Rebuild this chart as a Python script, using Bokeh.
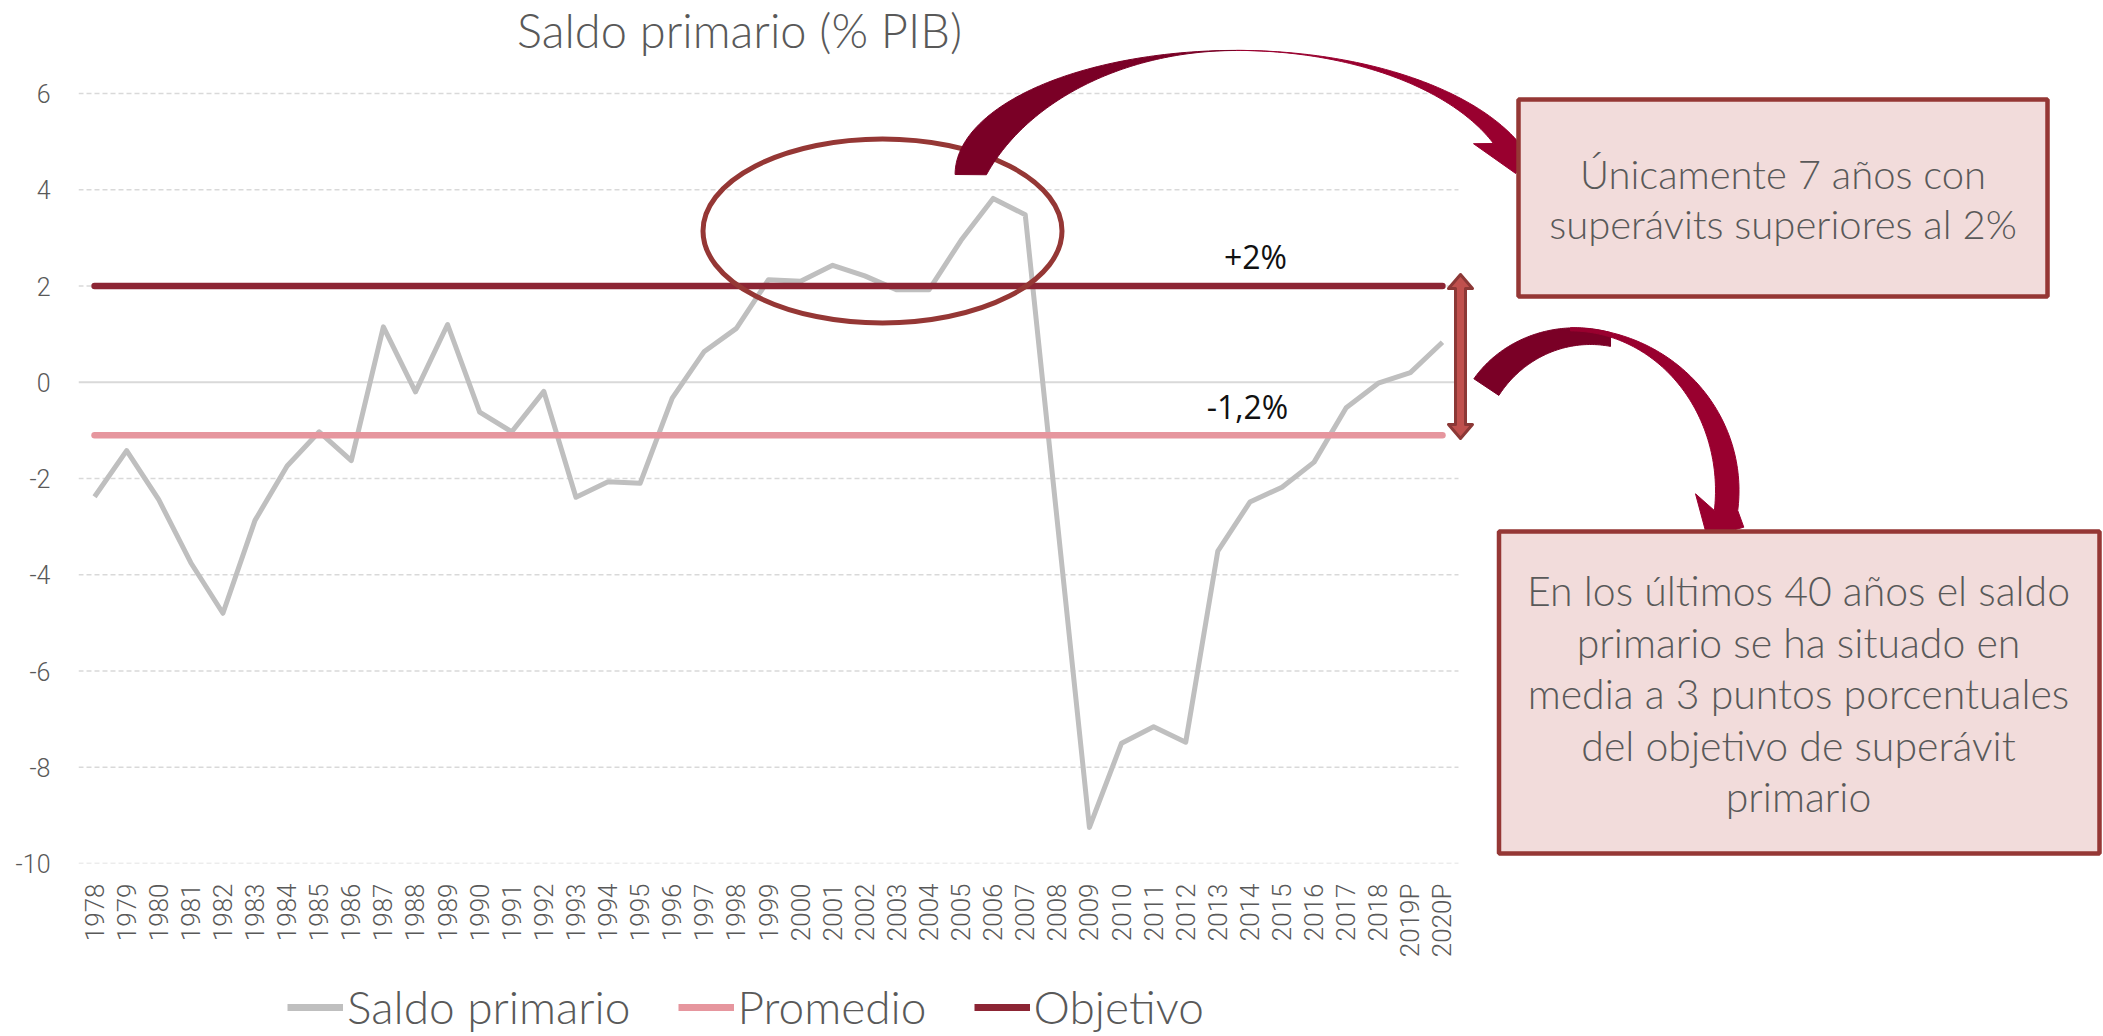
import numpy as np
from bokeh.plotting import figure
from bokeh.layouts import column
from bokeh.models import Range1d, FixedTicker, Legend, LegendItem
from bokeh.core.properties import value
from bokeh.embed import file_html
from bokeh.resources import INLINE

# ---------------- data ----------------
years = ["1978", "1979", "1980", "1981", "1982", "1983", "1984", "1985", "1986", "1987",
         "1988", "1989", "1990", "1991", "1992", "1993", "1994", "1995", "1996", "1997",
         "1998", "1999", "2000", "2001", "2002", "2003", "2004", "2005", "2006", "2007",
         "2008", "2009", "2010", "2011", "2012", "2013", "2014", "2015", "2016", "2017",
         "2018", "2019P", "2020P"]
saldo_primario = [-2.38, -1.42, -2.44, -3.75, -4.80, -2.87, -1.74, -1.03, -1.63, 1.15,
                  -0.20, 1.20, -0.62, -1.03, -0.19, -2.39, -2.07, -2.10, -0.33, 0.64,
                  1.12, 2.13, 2.10, 2.43, 2.21, 1.92, 1.92, 2.95, 3.82, 3.48,
                  -2.90, -9.25, -7.50, -7.16, -7.48, -3.51, -2.49, -2.18, -1.66, -0.53,
                  -0.02, 0.20, 0.83]
promedio = -1.1
objetivo = 2.0
y_ticks = [-10, -8, -6, -4, -2, 0, 2, 4, 6]
label_objetivo = "+2%"
label_promedio = "-1,2%"
title_text = "Saldo primario (% PIB)"
box1_lines = ["Únicamente 7 años con", "superávits superiores al 2%"]
box2_lines = ["En los últimos 40 años el saldo", "primario se ha situado en",
              "media a 3 puntos porcentuales", "del objetivo de superávit", "primario"]
series_names = ["Saldo primario", "Promedio", "Objetivo"]
series_colors = ["#BFBFBF", "#E6969E", "#8C2534"]

# ---------------- layout geometry ----------------
W = 2103
ML = 78                   # frame left (page px)
FRAME_BOTTOM = 863        # page y of the -10 gridline
H1 = 975
H2 = 61
N = len(years)
PXX = 1380.0 / N          # px per category
PXY = 770.0 / 16.0        # px per y unit
x_start = -0.5
x_end = x_start + (W - ML) / PXX
y_start = -10.0
y_end = y_start + FRAME_BOTTOM / PXY
MB = H1 - FRAME_BOTTOM


def dx(X):
    return x_start + (np.asarray(X, dtype=float) - ML) / PXX


def dy(Y):
    return y_start + (FRAME_BOTTOM - np.asarray(Y, dtype=float)) / PXY


LIGHT = "Lato Light"
GRAY_TXT = "#595959"

p = figure(width=W, height=H1, x_range=Range1d(x_start, x_end), y_range=Range1d(y_start, y_end),
           output_backend="svg", toolbar_location=None,
           min_border_left=ML, min_border_right=0, min_border_top=0, min_border_bottom=MB)
p.outline_line_color = None
p.background_fill_color = None
p.border_fill_color = "white"
p.xgrid.grid_line_color = None
p.ygrid.grid_line_color = None

# y axis
p.yaxis.ticker = FixedTicker(ticks=y_ticks)
p.yaxis.major_label_overrides = {t: str(t) for t in y_ticks}
p.yaxis.axis_line_color = None
p.yaxis.major_tick_line_color = None
p.yaxis.minor_tick_line_color = None
p.yaxis.major_tick_out = 0
p.yaxis.major_label_standoff = 28
p.yaxis.major_label_text_font = "Roboto Light"
p.yaxis.major_label_text_font_size = "25px"
p.yaxis.major_label_text_color = GRAY_TXT

# x axis
xs = list(range(N))
p.xaxis.ticker = FixedTicker(ticks=xs)
p.xaxis.major_label_overrides = {i: y for i, y in enumerate(years)}
p.xaxis.major_label_orientation = np.pi / 2
p.xaxis.axis_line_color = None
p.xaxis.major_tick_line_color = None
p.xaxis.minor_tick_line_color = None
p.xaxis.major_tick_out = 0
p.xaxis.major_label_standoff = 20
p.xaxis.major_label_text_font = "Roboto Light"
p.xaxis.major_label_text_font_size = "26px"
p.xaxis.major_label_text_color = GRAY_TXT

# gridlines over the plotting area only
grid_y = [t for t in y_ticks if t != 0]
p.segment(x0=[x_start] * len(grid_y), x1=[N - 0.5] * len(grid_y), y0=grid_y, y1=grid_y,
          line_color="#D9D9D9", line_width=1.5, line_dash="5 3")
p.segment(x0=[x_start], x1=[N - 0.5], y0=[0], y1=[0], line_color="#D9D9D9", line_width=2)

# series
p.line(xs, saldo_primario, line_color=series_colors[0], line_width=5, line_join="round")
p.line([0, N - 1], [promedio, promedio], line_color=series_colors[1], line_width=6.5, line_cap="round")
p.line([0, N - 1], [objetivo, objetivo], line_color=series_colors[2], line_width=6.5, line_cap="round")

p.text(x=[dx(1255)], y=[dy(256)], text=[label_objetivo], text_font=value("Open Sans"),
       text_font_size="32px", text_color="#111111", text_align="center", text_baseline="middle")
p.text(x=[dx(1247)], y=[dy(406)], text=[label_promedio], text_font=value("Open Sans"),
       text_font_size="32px", text_color="#111111", text_align="center", text_baseline="middle")

# title
p.text(x=[dx(739)], y=[dy(29)], text=[title_text], text_font=value(LIGHT), text_font_size="47px",
       text_color=GRAY_TXT, text_align="center", text_baseline="middle")

# ellipse highlight
p.ellipse(x=[dx(882)], y=[dy(230.5)], width=[359 / PXX], height=[184 / PXY],
          fill_color=None, line_color="#953735", line_width=5)


def arc(cx, cy, a, b, t0, t1, n=80):
    t = np.linspace(t0, t1, n)
    return cx + a * np.cos(t), cy + b * np.sin(t)


def patch_px(X, Y, color):
    p.patch(dx(X), dy(Y), fill_color=color, line_color=color, line_width=1)


DARK, BRIGHT = "#7A0026", "#99002F"

# --- top curved arrow ---
ox, oy = arc(1235.8, 174, 281.2, 124.1, np.pi, 1.5 * np.pi)
ix, iy = arc(1235.8, 250, 270, 200, 1.5 * np.pi, 3.53)
patch_px(np.r_[ox, ix], np.r_[oy, iy], DARK)
t_end = -np.arcsin((200 - 143) / 150.1)
ox, oy = arc(1235.8, 200, 306.2, 150.1, -0.5 * np.pi, t_end)
ix, iy = arc(1235.8, 200, 278, 150.1, t_end, -0.5 * np.pi)
patch_px(np.r_[ox, 1534.4, 1515.2, 1473, ix], np.r_[oy, 143.2, 173, 143.2, iy], BRIGHT)

# --- second curved arrow ---
ox, oy = arc(1575, 440, 121.5, 112.7, -2.562, -1.278)
ix, iy = arc(1590, 460, 110.7, 116, -1.389, -2.546)
patch_px(np.r_[ox, ix], np.r_[oy, iy], DARK)
t2o = np.arcsin(20 / 162.7)
t2i = np.arcsin(20 / 159.6)
ox, oy = arc(1570, 490, 168.5, 162.7, -0.5 * np.pi, t2o)
ix, iy = arc(1570, 490, 145, 159.6, t2i, -0.5 * np.pi)
patch_px(np.r_[ox, 1743.3, 1706.7, 1695, ix], np.r_[oy, 526.7, 536.7, 493.3, iy], BRIGHT)

# --- double vertical arrow between objetivo and promedio ---
X, Yt, Yb = 1460, 274, 438
hl, hw, sw = 14, 12, 5
ax_ = [X, X + hw, X + sw, X + sw, X + hw, X, X - hw, X - sw, X - sw, X - hw]
ay_ = [Yt, Yt + hl, Yt + hl, Yb - hl, Yb - hl, Yb, Yb - hl, Yb - hl, Yt + hl, Yt + hl]
p.patch(dx(ax_), dy(ay_), fill_color="#C0504D", line_color="#8C3836", line_width=3, line_join="round")

# --- text boxes ---
p.quad(left=[dx(1518)], right=[dx(2047)], top=[dy(99)], bottom=[dy(296)],
       fill_color="#F2DCDB", line_color="#953735", line_width=4.5)
p.quad(left=[dx(1498.5)], right=[dx(2099)], top=[dy(531)], bottom=[dy(853)],
       fill_color="#F2DCDB", line_color="#953735", line_width=4.5)

b1_mid = [173.5 + 50 * i for i in range(len(box1_lines))]
p.text(x=[dx(1782.5)] * len(box1_lines), y=list(dy(b1_mid)), text=box1_lines,
       text_font=value(LIGHT), text_font_size="40px", text_color=GRAY_TXT,
       text_align="center", text_baseline="middle")
b2_mid = [590 + 51.6 * i for i in range(len(box2_lines))]
p.text(x=[dx(1798)] * len(box2_lines), y=list(dy(b2_mid)), text=box2_lines,
       text_font=value(LIGHT), text_font_size="41px", text_color=GRAY_TXT,
       text_align="center", text_baseline="middle")

# ---------------- legend strip (separate figure under the chart) ----------------
q = figure(width=W, height=H2, x_range=Range1d(0, 1), y_range=Range1d(0, 1),
           output_backend="svg", toolbar_location=None, min_border=0,
           x_axis_location=None, y_axis_location=None)
q.grid.grid_line_color = None
q.outline_line_color = None
items = []
for name, col in zip(series_names, series_colors):
    r = q.line(x=[5, 6], y=[5, 6], line_color=col, line_width=7)
    items.append(LegendItem(label=name, renderers=[r]))
legend = Legend(items=items, orientation="horizontal", location=(209, 2),
                label_text_font=LIGHT, label_text_font_size="46px", label_text_color=GRAY_TXT,
                glyph_width=56, glyph_height=20, label_height=20, label_standoff=4, spacing=47,
                padding=0, margin=0, border_line_color=None, background_fill_alpha=0)
q.add_layout(legend, "center")

layout = column(p, q, spacing=0)
open("out.html", "w").write(file_html(layout, INLINE))
